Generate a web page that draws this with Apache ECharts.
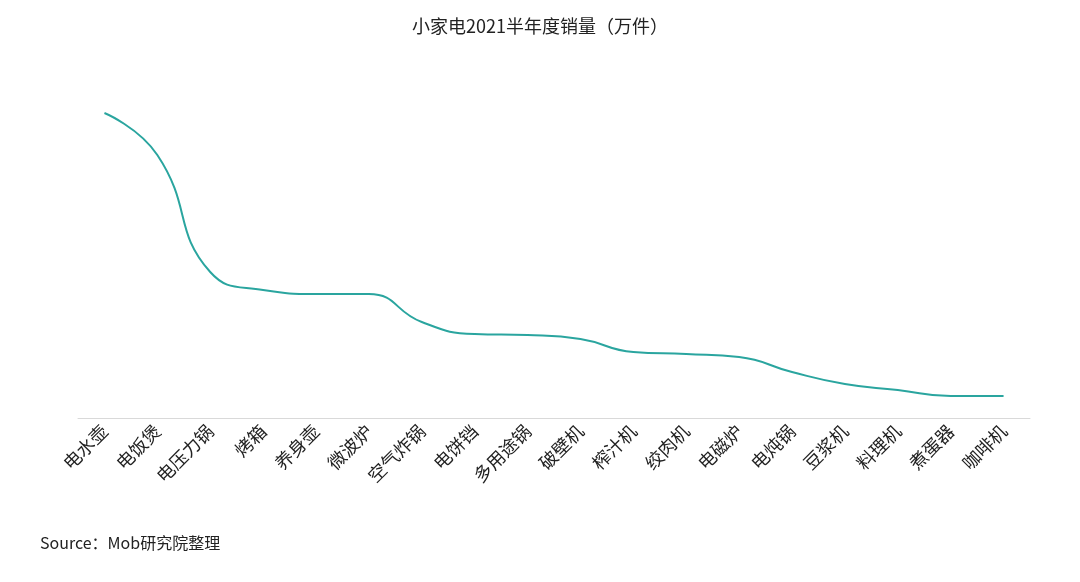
<!DOCTYPE html>
<html><head><meta charset="utf-8">
<script src="https://cdn.jsdelivr.net/npm/echarts@6/dist/echarts.min.js"></script>
<style>html,body{margin:0;background:#fff}#c{width:1080px;height:582px}</style></head>
<body><div id="c"></div>
<script>
const categories=['电水壶','电饭煲','电压力锅','烤箱','养身壶','微波炉','空气炸锅','电饼铛','多用途锅','破壁机','榨汁机','绞肉机','电磁炉','电炖锅','豆浆机','料理机','煮蛋器','咖啡机'];
const sales=[305,263,146,128,124,124,96,84,83,79,66,64,61,46,34,28,22,22];
const chart=echarts.init(document.getElementById('c'));
chart.setOption({
  title:{text:'小家电2021半年度销量（万件）',left:'center',top:12,textStyle:{fontSize:18,fontWeight:'normal',color:'#222',fontFamily:'Noto Sans CJK SC'}},
  graphic:[{type:'text',left:40,top:535,style:{text:'Source：Mob研究院整理',fontSize:16,fill:'#222',fontFamily:'Noto Sans CJK SC'}}],
  grid:{left:78,right:50,top:60,bottom:164},
  xAxis:{type:'category',data:categories,axisTick:{show:false},axisLine:{lineStyle:{color:'#d9d9d9'}},
    axisLabel:{rotate:45,fontSize:18,color:'#222',margin:10,interval:0,fontFamily:'Noto Sans CJK SC'}},
  yAxis:{type:'value',min:0,max:358,show:false,splitLine:{show:false}},
  series:[{type:'line',data:sales,smooth:true,showSymbol:false,lineStyle:{color:'#2aa59f',width:2}}]
});
</script></body></html>
